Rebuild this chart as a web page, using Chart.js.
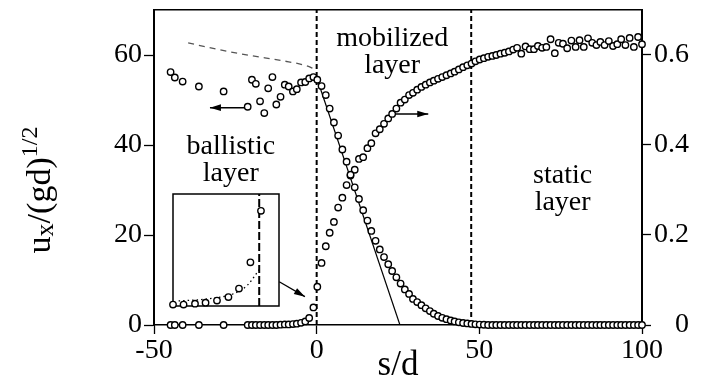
<!DOCTYPE html>
<html><head><meta charset="utf-8">
<script src="https://cdn.jsdelivr.net/npm/chart.js@4.4.1/dist/chart.umd.min.js"></script>
<style>
html,body{margin:0;padding:0;background:#fff;}
#wrap{position:relative;width:714px;height:379px;overflow:hidden;}
#main{position:absolute;left:0;top:0;}
#inset{position:absolute;left:165px;top:186px;}
</style></head><body>
<div id="wrap"><canvas id="main" width="714" height="379"></canvas><canvas id="inset" width="122" height="128"></canvas></div>
<script>
// ---- data ----
const sPos = [-44.9, -43.6, -41.2, -36.2, -28.6,
  -21.2, -19.9, -18.7, -17.4, -16.1, -14.9, -13.6, -12.4, -11.1, -9.8, -8.6, -7.3, -6.1, -4.8, -3.5, -2.3, -1.0,
  0.2,
  1.5, 2.8, 4.0, 5.3, 6.6, 7.9, 9.2, 10.4, 11.7, 13.0,
  14.3, 15.6, 16.8, 18.1, 19.4, 20.7, 22.0, 23.2, 24.5, 25.8,
  27.1, 28.4, 29.6, 30.9, 32.2, 33.5, 34.8, 36.0, 37.3, 38.6,
  39.9, 41.2, 42.4, 43.7, 45.0, 46.3, 47.6, 48.8, 50.1, 51.4,
  52.7, 54.0, 55.2, 56.5, 57.8, 59.1, 60.4, 61.6, 62.9, 64.2,
  65.5, 66.8, 68.0, 69.3, 70.6, 71.9, 73.2, 74.4, 75.7, 77.0,
  78.3, 79.6, 80.8, 82.1, 83.4, 84.7, 86.0, 87.2, 88.5, 89.8,
  91.1, 92.4, 93.6, 94.9, 96.2, 97.5, 98.8, 100.0];
const velocity = [56.2, 55.0, 54.1, 53.0, 51.9,
  48.5, 54.5, 53.6, 49.7, 47.1, 52.6, 55.1, 49.0, 50.7, 53.4, 53.0, 51.9, 52.4, 53.9, 54.0, 54.8, 55.1,
  54.5,
  53.1, 51.1, 48.1, 45.0, 42.1, 39.0, 36.3, 33.4, 30.6, 28.0,
  25.5, 23.2, 20.9, 18.7, 16.8, 15.1, 13.5, 12.0, 10.6, 9.2,
  7.9, 6.9, 5.8, 5.1, 4.4, 3.7, 3.1, 2.5, 2.0, 1.6,
  1.3, 1.0, 0.8, 0.6, 0.45, 0.35, 0.25, 0.15, 0.1, 0.05,
  0, 0, 0, 0, 0, 0, 0, 0, 0, 0,
  0, 0, 0, 0, 0, 0, 0, 0, 0, 0,
  0, 0, 0, 0, 0, 0, 0, 0, 0, 0,
  0, 0, 0, 0, 0, 0, 0, 0];
const fraction = [0, 0, 0, 0, 0,
  0, 0, 0, 0, 0, 0, 0, 0, 0.0008, 0.0013, 0.0013, 0.0021, 0.0030, 0.0048, 0.0080, 0.0156, 0.039,
  0.085,
  0.138, 0.175, 0.205, 0.229, 0.261, 0.283, 0.311, 0.332, 0.345, 0.369,
  0.373, 0.393, 0.404, 0.426, 0.435, 0.447, 0.459, 0.469, 0.481, 0.494,
  0.501, 0.511, 0.516, 0.523, 0.529, 0.534, 0.539, 0.543, 0.547, 0.551,
  0.555, 0.559, 0.563, 0.568, 0.573, 0.577, 0.581, 0.586, 0.590, 0.593,
  0.596, 0.598, 0.600, 0.603, 0.605, 0.608, 0.612, 0.616, 0.603, 0.619,
  0.613, 0.613, 0.620, 0.616, 0.618, 0.635, 0.604, 0.627, 0.625, 0.615,
  0.632, 0.618, 0.633, 0.618, 0.637, 0.627, 0.622, 0.629, 0.622, 0.631,
  0.620, 0.624, 0.635, 0.622, 0.638, 0.618, 0.640, 0.624];

const xTicks = [-50, 0, 50, 100];
const xTickLabels = ['-50', '0', '50', '100'];
const yTicks = [0, 20, 40, 60];
const yTickLabels = ['0', '20', '40', '60'];
const y2Ticks = [0, 0.2, 0.4, 0.6];
const y2TickLabels = ['0', '0.2', '0.4', '0.6'];
const xRange = [-50, 100];
const yRange = [0, 70];
const y2Range = [0, 0.7];

const boundaries = [0, 47.5];
const fitS = [0, 25.6];
const fitV = [55, 0];
const ballS = [-39.5, -30.8, -20.5, -10.3, -3.1, -0.5];
const ballV = [62.7, 61.3, 59.9, 58.7, 57.6, 56.8];
const arrowBallS = [-21.2, -32.8], arrowBallV = [48.3, 48.3];
const arrowFracS = [22.5, 34.3], arrowFracPhi = [0.469, 0.469];
const arrowInsetS = [-11.5, -3.6], arrowInsetV = [9.6, 6.3];

const insetXRange = [-9.8, 2.25];
const insetYRange = [0, 0.1];
const insetFitS = [-9.16, -6.68, -4.78, -2.88, -1.35, 0.17];
const insetFitPhi = [0.0045, 0.0057, 0.0075, 0.0111, 0.0185, 0.0344];

const regionLabels = [
  {lines: ['ballistic', 'layer'], s: -26.4, v: 37.9},
  {lines: ['mobilized', 'layer'], s: 23.2, v: 62.0},
  {lines: ['static', 'layer'], s: 75.6, v: 31.5}
];

// ---- helpers ----
const pts = (xs, ys) => xs.map((x, i) => ({x: x, y: ys[i]}));
const FONT = "'Liberation Serif', 'Times New Roman', serif";
Chart.defaults.font.family = FONT;
Chart.defaults.color = '#000';

const circleStyle = {showLine: false, pointRadius: 3.2, pointHoverRadius: 3.2, pointBorderWidth: 1.4,
  pointBorderColor: '#000', pointBackgroundColor: '#fff', clip: false};
const lineStyle = {pointRadius: 0, pointHoverRadius: 0, fill: false, borderColor: '#000'};

const arrowHeads = {
  id: 'arrowHeads',
  afterDatasetsDraw(chart) {
    const ctx = chart.ctx;
    chart.data.datasets.forEach((ds, i) => {
      if (!ds.arrow) return;
      const els = chart.getDatasetMeta(i).data;
      const a = els[els.length - 2], b = els[els.length - 1];
      const ang = Math.atan2(b.y - a.y, b.x - a.x);
      const L = 11, W = 3.3;
      ctx.save();
      ctx.translate(b.x, b.y); ctx.rotate(ang);
      ctx.beginPath(); ctx.moveTo(0, 0); ctx.lineTo(-L, -W); ctx.lineTo(-L, W); ctx.closePath();
      ctx.fillStyle = '#000'; ctx.fill();
      ctx.restore();
    });
  }
};

const texts = {
  id: 'texts',
  afterDraw(chart) {
    const ctx = chart.ctx;
    const sx = chart.scales.x, sy = chart.scales.y;
    ctx.save();
    ctx.fillStyle = '#000';
    ctx.font = '28px ' + FONT;
    ctx.textAlign = 'center';
    ctx.textBaseline = 'alphabetic';
    regionLabels.forEach(l => {
      const x = sx.getPixelForValue(l.s), y = sy.getPixelForValue(l.v);
      l.lines.forEach((t, k) => ctx.fillText(t, x, y + k * 27));
    });
    ctx.restore();
    // y axis title with sub/superscript
    const parts = [
      {t: 'u', size: 34, dy: 0},
      {t: 'x', size: 26, dy: 3},
      {t: '/(gd)', size: 34, dy: 0},
      {t: '1/2', size: 24, dy: -13}
    ];
    ctx.save();
    ctx.fillStyle = '#000';
    ctx.textAlign = 'left';
    ctx.textBaseline = 'alphabetic';
    let W = 0;
    parts.forEach(p => { ctx.font = p.size + 'px ' + FONT; p.w = ctx.measureText(p.t).width; W += p.w; });
    ctx.translate(50, 190);
    ctx.rotate(-Math.PI / 2);
    let x = -W / 2;
    parts.forEach(p => { ctx.font = p.size + 'px ' + FONT; ctx.fillText(p.t, x, p.dy); x += p.w; });
    ctx.restore();
  }
};

const tickFont = {size: 28, family: FONT};

new Chart(document.getElementById('main'), {
  type: 'line',
  data: {datasets: [
    Object.assign({data: pts(sPos, velocity), yAxisID: 'y'}, circleStyle),
    Object.assign({data: pts(sPos, fraction), yAxisID: 'y2'}, circleStyle),
    Object.assign({data: pts(fitS, fitV), yAxisID: 'y', borderWidth: 1.2}, lineStyle),
    Object.assign({data: pts(ballS, ballV), yAxisID: 'y', borderWidth: 1.3,
      borderDash: [6, 5], cubicInterpolationMode: 'monotone'}, lineStyle, {borderColor: '#555'}),
    Object.assign({data: pts([boundaries[0], boundaries[0]], yRange), yAxisID: 'y', borderWidth: 2, borderDash: [5, 3]}, lineStyle),
    Object.assign({data: pts([boundaries[1], boundaries[1]], yRange), yAxisID: 'y', borderWidth: 2, borderDash: [5, 3]}, lineStyle),
    Object.assign({data: pts(arrowBallS, arrowBallV), yAxisID: 'y', borderWidth: 1.5, arrow: true}, lineStyle),
    Object.assign({data: pts(arrowFracS, arrowFracPhi), yAxisID: 'y2', borderWidth: 1.5, arrow: true}, lineStyle),
    Object.assign({data: pts(arrowInsetS, arrowInsetV), yAxisID: 'y', borderWidth: 1.3, arrow: true}, lineStyle)
  ]},
  options: {
    responsive: false, animation: false,
    layout: {padding: {left: 0, top: 10, right: 25, bottom: 0}},
    plugins: {legend: {display: false}, tooltip: {enabled: false}},
    scales: {
      x: {type: 'linear', position: 'bottom', min: xRange[0], max: xRange[1],
        afterFit: s => { s.height = 54; s.paddingLeft = 0; s.paddingRight = 0; },
        afterBuildTicks: s => { s.ticks = xTicks.map(v => ({value: v})); },
        ticks: {font: tickFont, color: '#000', padding: 0, maxRotation: 0, autoSkip: false,
          callback: (v, i) => xTickLabels[i]},
        grid: {drawOnChartArea: false, drawTicks: true, tickLength: 9, tickWidth: 1.3, tickColor: '#000'},
        border: {display: true, color: '#000', width: 1.5},
        title: {display: true, text: 's/d', color: '#000', font: {size: 35, family: FONT, lineHeight: 1},
          padding: {top: 0, bottom: -4}}
      },
      xTop: {type: 'linear', position: 'top', min: xRange[0], max: xRange[1],
        afterFit: s => { s.height = 0; s.paddingLeft = 0; s.paddingRight = 0; },
        ticks: {display: false},
        grid: {drawOnChartArea: false, drawTicks: false},
        border: {display: true, color: '#000', width: 1.5}
      },
      y: {type: 'linear', position: 'left', min: yRange[0], max: yRange[1],
        afterFit: s => { s.width = 154; s.paddingTop = 0; s.paddingBottom = 0; },
        afterBuildTicks: s => { s.ticks = yTicks.map(v => ({value: v})); },
        ticks: {font: tickFont, color: '#000', padding: 2, callback: (v, i) => yTickLabels[i]},
        grid: {drawOnChartArea: false, drawTicks: true, tickLength: 10, tickWidth: 1.3, tickColor: '#000'},
        border: {display: true, color: '#000', width: 2}
      },
      y2: {type: 'linear', position: 'right', min: y2Range[0], max: y2Range[1],
        afterFit: s => { s.width = 47; s.paddingTop = 0; s.paddingBottom = 0; },
        afterBuildTicks: s => { s.ticks = y2Ticks.map(v => ({value: v})); },
        ticks: {font: tickFont, color: '#000', padding: 2, crossAlign: 'far', callback: (v, i) => y2TickLabels[i]},
        grid: {drawOnChartArea: false, drawTicks: true, tickLength: 9, tickWidth: 1.3, tickColor: '#000'},
        border: {display: true, color: '#000', width: 2}
      }
    }
  },
  plugins: [arrowHeads, texts]
});

// ---- inset ----
const frame = {
  id: 'frame',
  beforeDatasetsDraw(chart) {
    const a = chart.chartArea, ctx = chart.ctx;
    ctx.save(); ctx.fillStyle = '#fff'; ctx.fillRect(a.left, a.top, a.right - a.left, a.bottom - a.top);
    ctx.strokeStyle = '#000'; ctx.lineWidth = 1.5;
    ctx.strokeRect(a.left, a.top, a.right - a.left, a.bottom - a.top); ctx.restore();
  }
};
const insetIdx = sPos.map((s, i) => i).filter(i => sPos[i] >= insetXRange[0] - 0.05 && sPos[i] <= insetXRange[1]);
new Chart(document.getElementById('inset'), {
  type: 'line',
  data: {datasets: [
    Object.assign({data: insetIdx.map(i => ({x: sPos[i], y: fraction[i]}))}, circleStyle),
    Object.assign({data: pts([boundaries[0], boundaries[0]], insetYRange), borderWidth: 2, borderDash: [8, 3]}, lineStyle),
    Object.assign({data: pts(insetFitS, insetFitPhi), borderWidth: 1.3, borderDash: [1.5, 3],
      cubicInterpolationMode: 'monotone'}, lineStyle)
  ]},
  options: {
    responsive: false, animation: false,
    layout: {padding: 8},
    plugins: {legend: {display: false}, tooltip: {enabled: false}},
    scales: {
      x: {type: 'linear', display: false, min: insetXRange[0], max: insetXRange[1]},
      y: {type: 'linear', display: false, min: insetYRange[0], max: insetYRange[1]}
    }
  },
  plugins: [frame]
});
</script>
</body></html>
